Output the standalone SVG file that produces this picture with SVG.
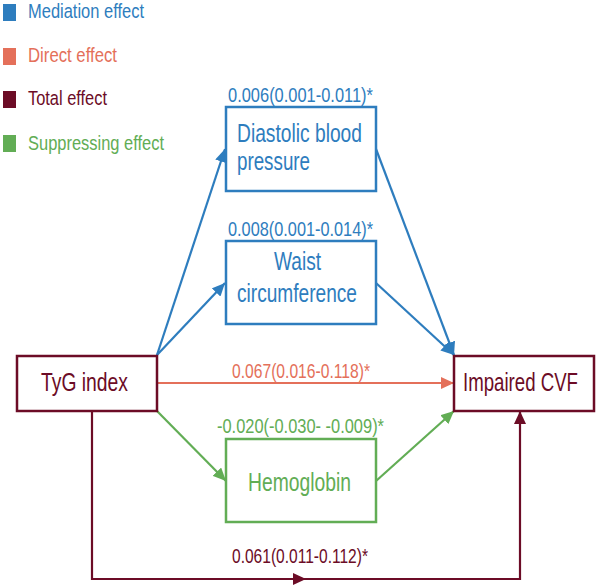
<svg xmlns="http://www.w3.org/2000/svg" width="597" height="588" viewBox="0 0 597 588">
<style>
text{font-family:"Liberation Sans Narrow","Liberation Sans",Arial,sans-serif;}
.node{font-size:25px;}
.lab{font-size:20.5px;}
.leg{font-size:20.5px;}
.box{fill:#fff;stroke-width:2.5;}
.ln{fill:none;stroke-width:2.2;}
.b{fill:#2E7DBE;} .bs{stroke:#2E7DBE;}
.o{fill:#E4705A;} .os{stroke:#E4705A;}
.m{fill:#6C0C26;} .ms{stroke:#6C0C26;}
.g{fill:#62AD55;} .gs{stroke:#62AD55;}
</style>
<defs>
<marker id="ab" markerUnits="userSpaceOnUse" markerWidth="14" markerHeight="12" refX="13" refY="6" orient="auto"><path d="M0,0 L13,6 L0,12 Z" fill="#2E7DBE"/></marker>
<marker id="ao" markerUnits="userSpaceOnUse" markerWidth="14" markerHeight="12" refX="13" refY="6" orient="auto"><path d="M0,0 L13,6 L0,12 Z" fill="#E4705A"/></marker>
<marker id="am" markerUnits="userSpaceOnUse" markerWidth="14" markerHeight="12" refX="13" refY="6" orient="auto"><path d="M0,0 L13,6 L0,12 Z" fill="#6C0C26"/></marker>
<marker id="ag" markerUnits="userSpaceOnUse" markerWidth="14" markerHeight="12" refX="13" refY="6" orient="auto"><path d="M0,0 L13,6 L0,12 Z" fill="#62AD55"/></marker>
</defs>

<g id="legend">
<rect x="3" y="4" width="13" height="17" class="b"/>
<text x="28" y="18" class="leg b" textLength="116" lengthAdjust="spacingAndGlyphs">Mediation effect</text>
<rect x="3" y="48" width="13" height="17" class="o"/>
<text x="28" y="62" class="leg o" textLength="89" lengthAdjust="spacingAndGlyphs">Direct effect</text>
<rect x="3" y="91" width="13" height="17" class="m"/>
<text x="28" y="105" class="leg m" textLength="79" lengthAdjust="spacingAndGlyphs">Total effect</text>
<rect x="3" y="135" width="13" height="17" class="g"/>
<text x="28" y="150" class="leg g" textLength="136" lengthAdjust="spacingAndGlyphs">Suppressing effect</text>
</g>

<g id="connectors">
<path class="ln bs" d="M157,355 L225,149" marker-end="url(#ab)"/>
<path class="ln bs" d="M157,355 L225,283" marker-end="url(#ab)"/>
<path class="ln bs" d="M376,149 L454,355" marker-end="url(#ab)"/>
<path class="ln bs" d="M376,283 L454,355" marker-end="url(#ab)"/>
<path class="ln os" d="M157,383 L454,383" marker-end="url(#ao)"/>
<path class="ln gs" d="M157,411 L226,481" marker-end="url(#ag)"/>
<path class="ln gs" d="M376,481 L454,411" marker-end="url(#ag)"/>
<path class="ln ms" d="M92,411 V579 H306" marker-end="url(#am)"/>
<path class="ln ms" d="M304,579 H520 V411" marker-end="url(#am)"/>
<text x="228" y="102" class="lab b" textLength="145" lengthAdjust="spacingAndGlyphs">0.006(0.001-0.011)*</text>
<text x="228" y="236" class="lab b" textLength="145" lengthAdjust="spacingAndGlyphs">0.008(0.001-0.014)*</text>
<text x="232" y="378" class="lab o" textLength="138" lengthAdjust="spacingAndGlyphs">0.067(0.016-0.118)*</text>
<text x="217" y="433" class="lab g" textLength="167" lengthAdjust="spacingAndGlyphs">-0.020(-0.030- -0.009)*</text>
<text x="232" y="563" class="lab m" textLength="136" lengthAdjust="spacingAndGlyphs">0.061(0.011-0.112)*</text>
</g>

<g id="tyg">
<rect x="17" y="356" width="140" height="55" class="box ms"/>
<text x="41" y="391" class="node m" textLength="87" lengthAdjust="spacingAndGlyphs">TyG index</text>
</g>
<g id="cvf">
<rect x="454" y="356" width="140" height="55" class="box ms"/>
<text x="463" y="391" class="node m" textLength="115" lengthAdjust="spacingAndGlyphs">Impaired CVF</text>
</g>
<g id="dbp">
<rect x="226" y="107" width="150" height="84" class="box bs"/>
<text x="237" y="142" class="node b" textLength="125" lengthAdjust="spacingAndGlyphs">Diastolic blood</text>
<text x="237" y="170" class="node b" textLength="73" lengthAdjust="spacingAndGlyphs">pressure</text>
</g>
<g id="waist">
<rect x="226" y="241" width="150" height="83" class="box bs"/>
<text x="274" y="270" class="node b" textLength="47" lengthAdjust="spacingAndGlyphs">Waist</text>
<text x="237" y="302" class="node b" textLength="120" lengthAdjust="spacingAndGlyphs">circumference</text>
</g>
<g id="hemoglobin">
<rect x="226" y="439" width="150" height="83" class="box gs"/>
<text x="248" y="491" class="node g" textLength="103" lengthAdjust="spacingAndGlyphs">Hemoglobin</text>
</g>
</svg>
